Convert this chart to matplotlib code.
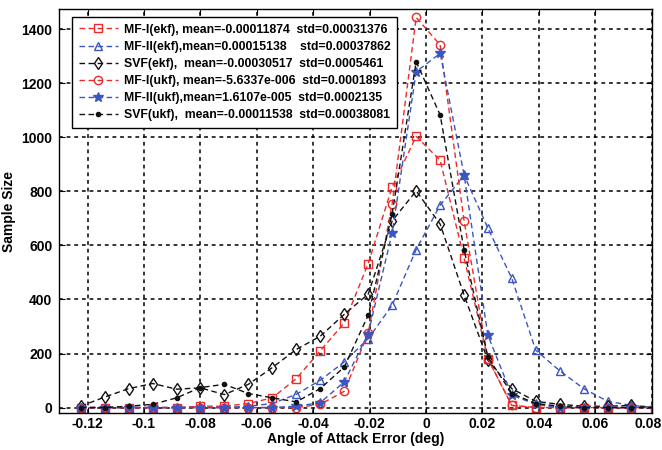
import matplotlib
matplotlib.use("Agg")
import matplotlib.pyplot as plt
import matplotlib.transforms as mtransforms

plt.rcParams['font.family'] = ['Liberation Sans', 'DejaVu Sans']
plt.rcParams['font.weight'] = 'bold'

x = [-0.1224, -0.1139, -0.1054, -0.0969, -0.0884, -0.0800, -0.0715, -0.0630,
     -0.0545, -0.0460, -0.0375, -0.0290, -0.0205, -0.0120, -0.0035, 0.0050,
     0.0135, 0.0219, 0.0304, 0.0389, 0.0474, 0.0559, 0.0644, 0.0728, 0.0813]

mf1_ekf = [0, 0, 0, 0, 0, 5, 5, 15, 36, 107, 210, 313, 533, 817, 1004, 915,
           553, 181, 8, 0, 0, 0, 0, 0, 0]
mf2_ekf = [0, 0, 0, 0, 0, 0, 0, 5, 15, 49, 101, 169, 255, 379, 585, 749,
           860, 665, 478, 212, 136, 70, 23, 8, 0]
svf_ekf = [5, 39, 70, 89, 68, 73, 48, 86, 148, 215, 264, 345, 420, 691, 802, 679,
           416, 175, 70, 23, 12, 5, 5, 8, 0]
mf1_ukf = [0, 0, 0, 0, 0, 0, 0, 0, 0, 0, 12, 60, 276, 755, 1444, 1342,
           690, 181, 8, 0, 0, 0, 0, 0, 0]
mf2_ukf = [0, 0, 0, 0, 0, 0, 0, 0, 0, 5, 18, 95, 274, 647, 1243, 1311,
           860, 268, 46, 12, 0, 0, 0, 0, 0]
svf_ukf = [0, 0, 5, 12, 36, 74, 86, 52, 36, 21, 70, 150, 342, 718, 1280, 1083,
           583, 187, 52, 15, 5, 0, 0, 0, 0]

labels = [
    "MF-I(ekf), mean=-0.00011874  std=0.00031376",
    "MF-II(ekf),mean=0.00015138    std=0.00037862",
    "SVF(ekf),  mean=-0.00030517  std=0.0005461",
    "MF-I(ukf), mean=-5.6337e-006  std=0.0001893",
    "MF-II(ukf),mean=1.6107e-005  std=0.0002135",
    "SVF(ukf),  mean=-0.00011538  std=0.00038081",
]

xticks = [-0.12, -0.1, -0.08, -0.06, -0.04, -0.02, 0, 0.02, 0.04, 0.06, 0.08]
xticklabels = ["-0.12", "-0.1", "-0.08", "-0.06", "-0.04", "-0.02", "0",
               "0.02", "0.04", "0.06", "0.08"]
yticks = [0, 200, 400, 600, 800, 1000, 1200, 1400]

RED = '#ee2a2a'
BLUE = '#3a56c0'
BLK = '#111111'

fig = plt.figure(figsize=(6.62, 4.5), dpi=100)
ax = fig.add_axes([0.0896, 0.0829, 0.8949, 0.8964])

series = [
    (mf1_ekf, RED, 's', 6, 'none'),
    (mf2_ekf, BLUE, '^', 6, 'none'),
    (svf_ekf, BLK, 'd', 6, 'none'),
    (mf1_ukf, RED, 'o', 6, 'none'),
    (mf2_ukf, BLUE, '*', 7, BLUE),
    (svf_ukf, BLK, '.', 6, BLK),
]
for (y, c, m, ms, mfc), lab in zip(series, labels):
    ax.plot(x, y, linestyle='--', color=c, marker=m, markersize=ms,
            markerfacecolor=mfc, markeredgecolor=c, markeredgewidth=1.0,
            linewidth=1.0, label=lab, dashes=(4, 2.5), clip_on=True)

ax.set_xlim(-0.13, 0.08)
ax.set_ylim(-19, 1474)
ax.set_xticks(xticks)
ax.set_xticklabels(xticklabels)
ax.set_yticks(yticks)
ax.tick_params(direction='in', top=True, right=True, labelsize=10, length=4,
               width=0.8)
ax.tick_params(axis='x', pad=3)
ax.tick_params(axis='y', pad=5)
for lab in ax.get_xticklabels() + ax.get_yticklabels():
    lab.set_fontweight('bold')
last = ax.get_xticklabels()[-1]
last.set_transform(last.get_transform() +
                   mtransforms.ScaledTranslation(-4 / 100, 0, fig.dpi_scale_trans))
ax.grid(True, color='black', linestyle=(0, (2.5, 2.5)), linewidth=1.1)
for s in ax.spines.values():
    s.set_linewidth(1.0)
    s.set_color('black')

ax.set_xlabel("Angle of Attack Error (deg)", fontsize=10, fontweight='bold', labelpad=1)
ax.set_ylabel("Sample Size", fontsize=10, fontweight='bold', labelpad=4)

leg = ax.legend(loc='upper left', bbox_to_anchor=(0.0214, 0.981), borderaxespad=0,
                fancybox=False, framealpha=1, edgecolor='black',
                prop={'size': 8.8, 'weight': 'bold'}, handlelength=3.2,
                handletextpad=0.5, labelspacing=0.42, borderpad=0.55)
leg.get_frame().set_linewidth(1.0)

fig.savefig("out.png", dpi=100)
